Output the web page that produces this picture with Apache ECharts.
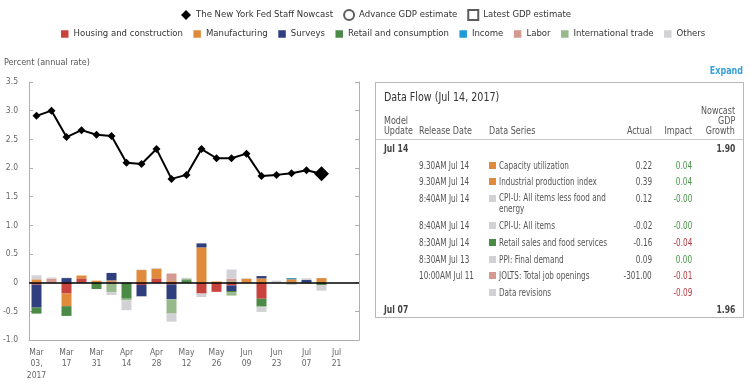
<!DOCTYPE html>
<html><head><meta charset="utf-8">
<script src="https://cdn.jsdelivr.net/npm/echarts@6/dist/echarts.min.js"></script>
<style>
html,body{margin:0;padding:0;background:#fff;}
body{position:relative;width:750px;height:383px;overflow:hidden;}
#chart{position:absolute;left:0;top:0;width:750px;height:383px;}
.t{position:absolute;white-space:nowrap;font-family:'DejaVu Sans Condensed','Liberation Sans',sans-serif;}
.t span{display:inline-block;white-space:pre;}
</style></head>
<body>
<div id="chart"></div>
<script>
// ---------- DATA ----------
const weeks = ['2017-03-03','2017-03-10','2017-03-17','2017-03-24','2017-03-31','2017-04-07','2017-04-14','2017-04-21','2017-04-28','2017-05-05','2017-05-12','2017-05-19','2017-05-26','2017-06-02','2017-06-09','2017-06-16','2017-06-23','2017-06-30','2017-07-07','2017-07-14','2017-07-21','2017-07-28'];
const nowcast = [2.91,3.00,2.54,2.66,2.58,2.56,2.09,2.07,2.33,1.81,1.88,2.33,2.17,2.17,2.25,1.86,1.88,1.91,1.96,1.90];
const yMin = -1.0, yMax = 3.5, yStep = 0.5;
const yTitle = 'Percent (annual rate)';

const sectorNames = ['Housing and construction','Manufacturing','Surveys','Retail and consumption','Income','Labor','International trade','Others'];
const sectorColors = ['#c8433d','#df8b3b','#2e3e7e','#4b8a47','#1f9ad6','#d49a8f','#97b98b','#d2d2d6'];

const housingPos = [0,0,0,0.075,0,0.02,0,0,0.075,0.015,0,0,0,0,0,0,0,0,0,0];
const housingNeg = [-0.035,0,-0.19,0,0,0,0,-0.04,0,-0.03,0,-0.19,-0.16,-0.05,0,-0.28,0,0,0,0];
const manufPos   = [0.058,0,0,0.05,0.035,0.02,0,0.22,0.17,0.015,0,0.615,0.02,0,0.07,0.075,0,0.06,0,0.08];
const manufNeg   = [0,0,-0.22,0,0,0,0,0,0,0,0,0,0,0,0,0,0,0,0,0];
const surveysPos = [0,0,0.08,0,0,0.13,0,0,0,0,0,0.07,0,0,0,0.04,0,0,0.046,0];
const surveysNeg = [-0.40,0,0,0,0,0,0,-0.20,0,-0.26,0,0,0,-0.095,0,0,0,0,0,0];
const retailPos  = [0,0,0,0,0,0,0,0,0,0,0.045,0,0,0.02,0,0,0,0,0,0];
const retailNeg  = [-0.105,0,-0.17,0,-0.11,0,-0.28,0,0,0,0,0,0,-0.02,0,-0.13,0,0,0,-0.04];
const incomePos  = [0,0,0,0,0,0,0,0,0,0,0,0,0,0,0,0,0,0.02,0,0];
const incomeNeg  = [0,0,0,0,0,0,0,0,0,0,0,0,0,0,0,0,0,0,0,0];
const laborPos   = [0,0.07,0,0,0,0,0,0,0,0.13,0,0,0,0.05,0,0,0,0,0,0];
const laborNeg   = [0,0,0,0,0,0,0,0,0,0,0,0,0,0,0,0,0,0,0,-0.01];
const tradePos   = [0,0,0,0,0,0,0,0,0,0,0.02,0,0,0,0,0,0,0,0,0];
const tradeNeg   = [0,0,0,0,0,-0.165,-0.03,0,0,-0.25,0,0,0,-0.06,0,-0.02,0,0,0,0];
const othersPos  = [0.07,0.02,0.01,0,0,0,0,0.01,0.01,0,0.02,0,0,0.16,0.01,0,0.035,0,0.03,0];
const othersNeg  = [0,0,0,0,0,-0.05,-0.17,-0.01,0,-0.14,0,-0.06,0,0,0,-0.08,0,-0.04,-0.02,-0.09];

const flowTimes  = ['9.30AM Jul 14','9.30AM Jul 14','8:40AM Jul 14','8:40AM Jul 14','8:30AM Jul 14','8:30AM Jul 13','10:00AM Jul 11',''];
const flowSeries = ['Capacity utilization','Industrial production index','CPI-U: All items less food and energy','CPI-U: All items','Retail sales and food services','PPI: Final demand','JOLTS: Total job openings','Data revisions'];
const flowSector = ['Manufacturing','Manufacturing','Others','Others','Retail and consumption','Others','Labor','Others'];
const flowActual = ['0.22','0.39','0.12','-0.02','-0.16','0.09','-301.00',''];
const flowImpact = ['0.04','0.04','-0.00','-0.00','-0.04','0.00','-0.01','-0.09'];
const flowTitle = 'Data Flow (Jul 14, 2017)';
const updateNew = ['Jul 14','1.90'];
const updateOld = ['Jul 07','1.96'];

// ---------- CHART ----------
const F = "'DejaVu Sans Condensed','Liberation Sans',sans-serif";
const MON = ['Jan','Feb','Mar','Apr','May','Jun','Jul','Aug','Sep','Oct','Nov','Dec'];
const posArr = [housingPos,manufPos,surveysPos,retailPos,incomePos,laborPos,tradePos,othersPos];
const negArr = [housingNeg,manufNeg,surveysNeg,retailNeg,incomeNeg,laborNeg,tradeNeg,othersNeg];

const barSeries = [];
sectorNames.forEach((nm, k) => {
  [posArr[k], negArr[k]].forEach(arr => {
    barSeries.push({
      name: nm, type: 'bar', stack: 'contrib', barWidth: 10,
      itemStyle: {color: sectorColors[k]}, data: arr.slice(), z: 2
    });
  });
});

const lineData = nowcast.map((v, i) => i === nowcast.length - 1 ? {value: v, symbolSize: 15} : v);

const chart = echarts.init(document.getElementById('chart'), null, {renderer: 'canvas'});
chart.setOption({
  animation: false,
  textStyle: {fontFamily: F},
  grid: {left: 29, right: 391, top: 82, bottom: 43, containLabel: false},
  graphic: [{type: 'text', left: 4, top: 58,
    style: {text: yTitle, fontSize: 9, fill: '#555', fontFamily: F}}],
  legend: [
    {left: 176, top: 4, itemWidth: 10, itemHeight: 10, itemGap: 10, selectedMode: false,
     textStyle: {fontSize: 9.5, color: '#333', fontFamily: F},
     data: [{name: 'The New York Fed Staff Nowcast', icon: 'diamond'},
            {name: 'Advance GDP estimate', icon: 'emptyCircle'},
            {name: 'Latest GDP estimate', icon: 'emptyRect'}]},
    {left: 56, top: 24, itemWidth: 7.5, itemHeight: 7.5, itemGap: 10.5, selectedMode: false, icon: 'rect',
     textStyle: {fontSize: 9.5, color: '#333', fontFamily: F},
     data: sectorNames}
  ],
  xAxis: {
    type: 'category', data: weeks, boundaryGap: true,
    axisLine: {onZero: false, lineStyle: {color: '#b0b0b0', width: 1}},
    axisTick: {interval: 1, alignWithLabel: true, length: 5, lineStyle: {color: '#b0b0b0'}},
    axisLabel: {interval: 1, margin: 7, fontSize: 8.5, lineHeight: 11.5, color: '#666', fontFamily: F,
      formatter: (v, i) => { const p = v.split('-'); const m = MON[+p[1] - 1];
        return i === 0 ? m + '\n' + p[2] + ',\n' + p[0] : m + '\n' + p[2]; }},
    splitLine: {show: false}
  },
  yAxis: [
    {type: 'value', min: yMin, max: yMax, interval: yStep, position: 'left',
     axisLine: {show: true, lineStyle: {color: '#b0b0b0'}},
     axisTick: {show: true, inside: true, length: 4, lineStyle: {color: '#b0b0b0'}},
     axisLabel: {margin: 11, fontSize: 8.5, color: '#666', fontFamily: F,
       formatter: v => Math.abs(v) < 1e-9 ? '0' : v.toFixed(1)},
     splitLine: {show: false}},
    {type: 'value', min: yMin, max: yMax, interval: yStep, position: 'right',
     axisLine: {show: true, lineStyle: {color: '#b0b0b0'}},
     axisTick: {show: true, inside: true, length: 4, lineStyle: {color: '#b0b0b0'}},
     axisLabel: {show: false}, splitLine: {show: false}}
  ],
  series: [
    ...barSeries,
    {name: 'The New York Fed Staff Nowcast', type: 'line', data: lineData, z: 10,
     color: '#000', symbol: 'diamond', symbolSize: 8, showSymbol: true,
     lineStyle: {color: '#000', width: 2}, itemStyle: {color: '#000'},
     markLine: {silent: true, symbol: 'none', label: {show: false},
       lineStyle: {color: '#000', width: 1.5, type: 'solid'}, data: [{yAxis: 0}]}},
    {name: 'Advance GDP estimate', type: 'scatter', data: [], color: '#333', itemStyle: {color: '#333'}},
    {name: 'Latest GDP estimate', type: 'scatter', data: [], color: '#333', itemStyle: {color: '#333'}}
  ]
});

// ---------- DATA FLOW PANEL ----------
const SX = 0.81;
function box(x, y, w, h, css) {
  const el = document.createElement('div');
  el.style.position = 'absolute'; el.style.left = x + 'px'; el.style.top = y + 'px';
  el.style.width = w + 'px'; el.style.height = h + 'px'; el.style.boxSizing = 'border-box';
  Object.assign(el.style, css || {});
  document.body.appendChild(el); return el;
}
function txt(s, x, y, o) {
  o = o || {};
  const el = document.createElement('div');
  el.className = 't';
  const sp = document.createElement('span');
  sp.textContent = s;
  const fs = o.size || 10, lh = o.lh || 11;
  el.style.fontSize = fs + 'px'; el.style.lineHeight = lh + 'px';
  el.style.top = (y - lh / 2) + 'px';
  const sx = o.sx || SX;
  if (o.align === 'right') { el.style.right = (750 - x) + 'px'; sp.style.transformOrigin = 'right center'; }
  else { el.style.left = x + 'px'; sp.style.transformOrigin = 'left center'; }
  sp.style.transform = 'scaleX(' + sx + ')';
  if (o.bold) el.style.fontWeight = 'bold';
  el.style.color = o.color || '#555';
  el.appendChild(sp);
  document.body.appendChild(el); return sp;
}
box(375, 82, 369, 236, {border: '1px solid #b8b8b8'});
box(376, 139, 367, 1, {background: '#c8c8c8'});
txt('Expand', 743, 70, {align: 'right', bold: true, size: 11, color: '#3aa0da'});
txt(flowTitle, 384, 96, {size: 12.5, lh: 15, color: '#333', sx: 0.85});
const HS = 11;
txt('Model', 384, 120, {size: HS}); txt('Update', 384, 130.5, {size: HS});
txt('Release Date', 419, 130.5, {size: HS});
txt('Data Series', 489, 130.5, {size: HS});
txt('Actual', 652, 130.5, {size: HS, align: 'right'});
txt('Impact', 692, 130.5, {size: HS, align: 'right'});
txt('Nowcast', 735, 110.5, {size: HS, align: 'right'});
txt('GDP', 735, 120.5, {size: HS, align: 'right'});
txt('Growth', 735, 130.5, {size: HS, align: 'right'});
txt(updateNew[0], 384, 148.5, {size: 10.5, bold: true, color: '#444'});
txt(updateNew[1], 735, 148.5, {size: 10.5, bold: true, color: '#444', align: 'right'});
// measure a reference series name to decide wrapping
const probe = txt(flowSeries[4], 0, -50, {});
const maxW = probe.getBoundingClientRect().width + 2;
probe.parentNode.remove();
flowSeries.forEach((s, i) => {
  const y = 165 + i * 16.9 + (i >= 3 ? 9.5 : 0);
  if (flowTimes[i]) txt(flowTimes[i], 419, y, {});
  const c = sectorColors[sectorNames.indexOf(flowSector[i])];
  box(489, y - 3.5, 7, 7, {background: c});
  const sp = txt(s, 499, y, {});
  if (sp.getBoundingClientRect().width > maxW) {
    const k = s.lastIndexOf(' ');
    sp.textContent = s.slice(0, k) + '\n' + s.slice(k + 1);
    sp.parentNode.style.top = (y - 5.5) + 'px';
    sp.parentNode.style.lineHeight = '10.5px';
  }
  if (flowActual[i]) txt(flowActual[i], 652, y, {align: 'right'});
  const neg = parseFloat(flowImpact[i]) < 0;
  txt(flowImpact[i], 692, y, {align: 'right', color: neg ? '#b63a3f' : '#4a944a'});
});
txt(updateOld[0], 384, 309.5, {size: 10.5, bold: true, color: '#444'});
txt(updateOld[1], 735, 309.5, {size: 10.5, bold: true, color: '#444', align: 'right'});
</script>
</body></html>
